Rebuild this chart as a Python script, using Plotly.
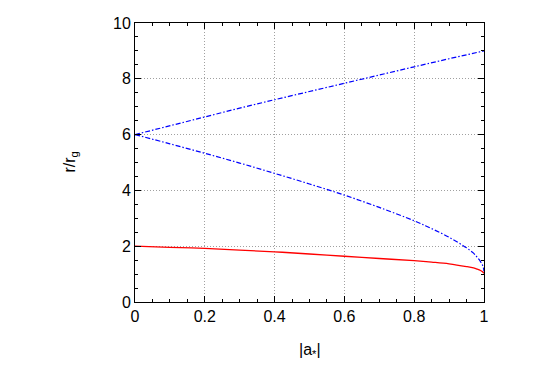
import plotly.graph_objects as go

# spin values and radii
a_isco = [0, 0.1, 0.2, 0.3, 0.4, 0.5, 0.6, 0.7, 0.8, 0.85, 0.9, 0.95, 0.97, 0.98, 0.99, 0.995, 0.998, 1.0]
r_pro = [6.0, 5.67, 5.33, 4.98, 4.61, 4.23, 3.83, 3.39, 2.91, 2.63, 2.32, 1.94, 1.75, 1.61, 1.45, 1.34, 1.24, 1.1]
a_retro = [0, 0.1, 0.2, 0.3, 0.4, 0.5, 0.6, 0.7, 0.8, 0.9, 1.0]
r_retro = [6.0, 6.32, 6.64, 6.95, 7.25, 7.55, 7.85, 8.14, 8.43, 8.72, 9.0]
a_red = [0, 0.1, 0.2, 0.3, 0.4, 0.5, 0.6, 0.7, 0.8, 0.85, 0.9, 0.95, 0.97, 0.98, 0.99, 0.995, 1.0]
r_red = [2.0, 1.96, 1.92, 1.86, 1.80, 1.72, 1.64, 1.56, 1.48, 1.43, 1.37, 1.27, 1.22, 1.18, 1.13, 1.09, 1.03]

x_ticks = [0, 0.2, 0.4, 0.6, 0.8, 1]
x_ticklabels = ["0", "0.2", "0.4", "0.6", "0.8", "1"]
y_ticks = [0, 2, 4, 6, 8, 10]
x_title = "|a<sub>*</sub>|"
y_title = "r/r<sub>g</sub>"

FONT = "Liberation Sans, Arial, Helvetica, sans-serif"

fig = go.Figure()
fig.add_trace(go.Scatter(x=a_retro, y=r_retro, mode="lines",
                         line=dict(color="#0000ff", width=1.2, dash="5px,2px,1.5px,2px")))
fig.add_trace(go.Scatter(x=a_isco, y=r_pro, mode="lines", line_shape="spline",
                         line=dict(color="#0000ff", width=1.2, dash="5px,2px,1.5px,2px")))
fig.add_trace(go.Scatter(x=a_red, y=r_red, mode="lines", line_shape="spline",
                         line=dict(color="#ff0000", width=1.3)))

axis_common = dict(
    showline=True, linecolor="black", linewidth=1, mirror="allticks",
    ticks="inside", ticklen=6, tickcolor="black",
    showgrid=True, gridcolor="#a0a0a0", griddash="1px,2px", gridwidth=1,
    zeroline=False, automargin=False,
    tickfont=dict(family=FONT, size=16, color="black"),
)

fig.update_layout(
    width=545, height=382,
    margin=dict(l=127, r=69, t=15, b=88),
    paper_bgcolor="white", plot_bgcolor="white",
    showlegend=False,
    font=dict(family=FONT, size=16, color="black"),
    xaxis=dict(range=[0, 1], tickvals=x_ticks, ticktext=x_ticklabels,
               minor=dict(dtick=0.05, ticks="inside", ticklen=3, tickcolor="black", showgrid=False),
               **axis_common),
    yaxis=dict(range=[0, 10], tickvals=y_ticks,
               minor=dict(dtick=0.5, ticks="inside", ticklen=3, tickcolor="black", showgrid=False),
               **axis_common),
    annotations=[
        dict(text=x_title, xref="paper", yref="paper", x=0.5, y=0, xanchor="center",
             yanchor="middle", yshift=-48, showarrow=False, font=dict(family=FONT, size=16)),
        dict(text=y_title, xref="paper", yref="paper", x=0, y=0.5, xanchor="center",
             yanchor="middle", xshift=-65, yshift=0, textangle=-90, showarrow=False,
             font=dict(family=FONT, size=16)),
    ],
)

fig.write_html("out.html")
